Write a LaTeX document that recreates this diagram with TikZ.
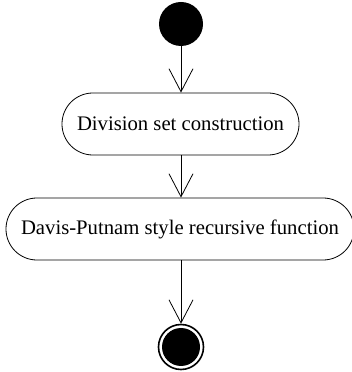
\documentclass[tikz,border=0pt]{standalone}
\usepackage{fontspec}
\setmainfont{Liberation Serif}
\usetikzlibrary{arrows.meta}
\begin{document}
\begin{tikzpicture}[x=1pt,y=1pt,
  actbox/.style={draw=black,line width=0.8pt,rounded corners=30.9pt,minimum height=62pt,inner sep=0pt,font=\fontsize{20.7}{24}\selectfont},
  flow/.style={draw=black,line width=0.8pt,-{Straight Barb[length=23pt,width=24pt,line width=0.8pt]}}]
\useasboundingbox (0,0) rectangle (352,372);
\node[circle,fill=black,minimum size=44pt,inner sep=0pt] (start) at (181,348) {};
\node[actbox,minimum width=237pt] (b1) at (180.5,248) {Division set construction};
\node[actbox,minimum width=348pt] (b2) at (180,143) {Davis-Putnam style recursive function};
\node[circle,draw=black,line width=1.6pt,minimum size=45pt,inner sep=0pt] (end) at (181,25) {};
\node[circle,fill=black,minimum size=38pt,inner sep=0pt] (endin) at (end.center) {};
\draw[flow] (start.south) -- (start.south |- b1.north);
\draw[flow] (start.south |- b1.south) -- (start.south |- b2.north);
\draw[flow] (start.south |- b2.south) -- (end.north);
\end{tikzpicture}
\end{document}
